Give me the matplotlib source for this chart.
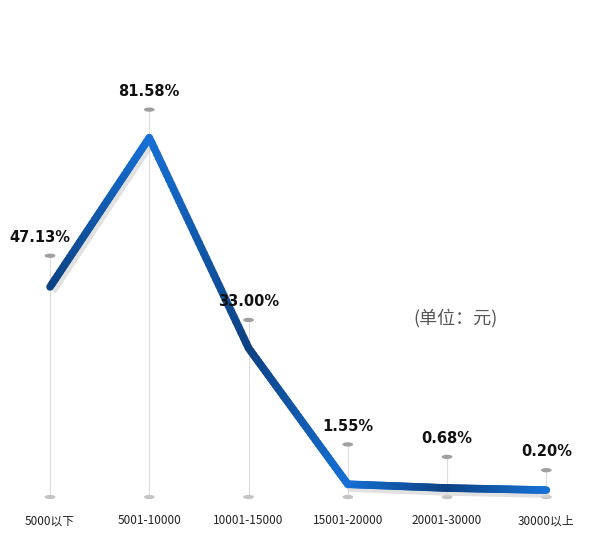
import numpy as np
import matplotlib
matplotlib.use("Agg")
import matplotlib.pyplot as plt
from matplotlib.collections import LineCollection
from matplotlib.colors import LinearSegmentedColormap

plt.rcParams['font.family'] = ['DejaVu Sans', 'Noto Sans CJK SC']

categories = ["5000以下", "5001-10000", "10001-15000", "15001-20000", "20001-30000", "30000以上"]
values = [47.13, 81.58, 33.00, 1.55, 0.68, 0.20]
labels = ["47.13%", "81.58%", "33.00%", "1.55%", "0.68%", "0.20%"]

fig = plt.figure(figsize=(5.9, 5.52), dpi=100)
ax = fig.add_axes([0, 0, 1, 1])
ax.set_xlim(-0.504, 5.44)
ax.set_ylim(-14.1, 113.4)
ax.axis('off')

t = np.linspace(0, 2 * np.pi, 40)
ell = np.column_stack([np.cos(t), 0.4 * np.sin(t)])

x = np.arange(len(values))
off = [7.2, 6.5, 6.5, 9.2, 7.2, 4.6]
for xi, v, lab, o in zip(x, values, labels, off):
    top = v + o
    ax.plot([xi, xi], [-1.4, top], color='#dcdcdc', lw=0.8, zorder=1)
    ax.scatter([xi], [top], s=60, marker=ell, color='#a0a0a0', zorder=2, edgecolors='none')
    ax.scatter([xi], [-1.4], s=60, marker=ell, color='#c4c4c4', zorder=2, edgecolors='none')
    ax.text(xi - (0.1 if xi == 0 else 0), top + 2.5, lab, ha='center', va='bottom',
            fontsize=10.5, fontweight='bold', color='#111111', zorder=5)
    ax.text(xi, -6.9, categories[xi], ha='center', va='center', fontsize=8.5,
            color='#222222', family=['Noto Sans CJK SC'])

# shadow
ax.plot(x + 0.03, np.array(values) - 1.0, color='#d5d5d5', lw=5, alpha=0.7,
        solid_capstyle='butt', zorder=3)

cmap = LinearSegmentedColormap.from_list('b', ['#0b3a74', '#1670d4'])
segs, cols = [], []
n = 40
for i in range(len(values) - 1):
    xs = np.linspace(x[i], x[i + 1], n + 1)
    ys = np.linspace(values[i], values[i + 1], n + 1)
    for j in range(n):
        segs.append([(xs[j], ys[j]), (xs[j + 1], ys[j + 1])])
        f = j / n
        cols.append(cmap(0.15 + 0.85 * f) if i % 2 == 0 else cmap(1 - 0.85 * f))
lc = LineCollection(segs, colors=cols, linewidths=5.5, capstyle='round', zorder=4)
ax.add_collection(lc)

ax.text(4.08, 40, "(单位：元)", ha='center', va='center', fontsize=13,
        color='#555555', style='italic', family=['Noto Sans CJK SC'])

fig.savefig("out.png", dpi=100)
